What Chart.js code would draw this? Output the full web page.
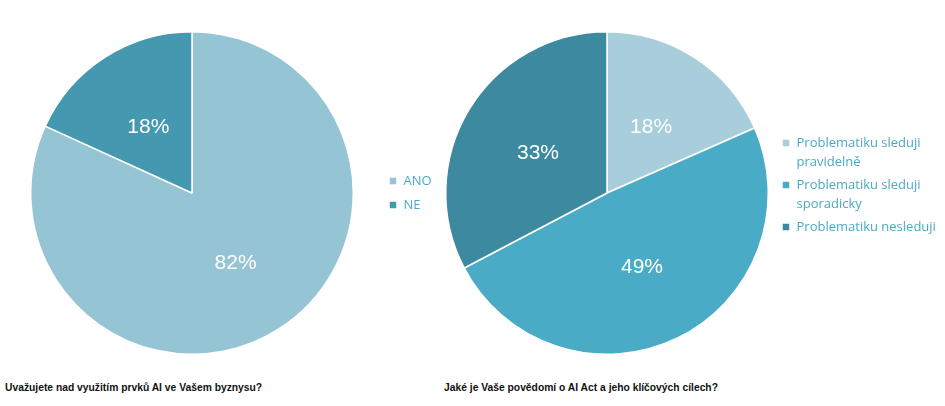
<!DOCTYPE html>
<html>
<head>
<meta charset="utf-8">
<script src="https://cdn.jsdelivr.net/npm/chart.js@4/dist/chart.umd.min.js"></script>
<style>
  body { margin: 0; background: #fff; width: 945px; height: 406px; position: relative; overflow: hidden; }
  canvas { position: absolute; }
  .caption { position: absolute; top: 382px; font: bold 10.3px "Liberation Sans", Arial, sans-serif; color: #111; white-space: nowrap; }
</style>
</head>
<body>
<canvas id="left-chart" style="left:6px;top:31px;width:442px;height:324px" width="442" height="324"></canvas>
<canvas id="right-chart" style="left:435px;top:31px;width:510px;height:324px" width="510" height="324"></canvas>
<div class="caption" style="left:5px">Uvažujete nad využitím prvků AI ve Vašem byznysu?</div>
<div class="caption" style="left:444px">Jaké je Vaše povědomí o AI Act a jeho klíčových cílech?</div>
<script>
// levý graf - využití AI
const left_labels = ['ANO', 'NE'];
const left_values = [81.8, 18.2];
const left_colors = ['#95c4d5', '#4499b0'];

// pravý graf - povědomí o AI Act
const right_labels = [['Problematiku sleduji', 'pravidelně'], ['Problematiku sleduji', 'sporadicky'], 'Problematiku nesleduji'];
const right_values = [18.4, 48.9, 32.7];
const right_colors = ['#a9cedb', '#4aabc6', '#3d8aa0'];

const legend_color = '#4aaac6';

// procenta uvnitř výsečí
const pct_labels = {
    id: 'pctLabels',
    afterDatasetsDraw(chart) {
        const ctx = chart.ctx;
        const meta = chart.getDatasetMeta(0);
        const data = chart.data.datasets[0].data;
        ctx.save();
        ctx.fillStyle = '#fff';
        ctx.font = '21px "Liberation Sans", Arial, sans-serif';
        ctx.textAlign = 'center';
        ctx.textBaseline = 'middle';
        meta.data.forEach((arc, i) => {
            const p = arc.tooltipPosition();
            ctx.fillText(Math.round(data[i]) + '%', p.x, p.y + 2);
        });
        ctx.restore();
    }
};

// pevná šířka legendy, aby koláč seděl na místě
function legend_width(w) {
    return {
        id: 'legendWidth',
        beforeInit(chart) {
            const fit = chart.legend.fit;
            chart.legend.fit = function () {
                fit.call(this);
                this.width = w;
            };
        }
    };
}

function make_pie(id, labels, values, colors, lw, legend_opts) {
    const canvas = document.getElementById(id).getContext('2d');
    return new Chart(canvas, {
        type: 'pie',
        data: {
            labels: labels,
            datasets: [{
                data: values,
                backgroundColor: colors,
                borderColor: '#fff',
                borderWidth: 1.5,
                hoverOffset: 0
            }]
        },
        options: {
            responsive: false,
            animation: false,
            events: [],
            layout: { padding: 0 },
            plugins: {
                tooltip: { enabled: false },
                legend: Object.assign({ position: 'right' }, legend_opts)
            }
        },
        plugins: [pct_labels, legend_width(lw)]
    });
}

make_pie('left-chart', left_labels, left_values, left_colors, 70, {
    align: 'center',
    labels: {
        boxWidth: 8, boxHeight: 8, padding: 11, color: legend_color,
        font: { family: '"Open Sans", sans-serif', size: 13 }
    }
});

make_pie('right-chart', right_labels, right_values, right_colors, 166, {
    align: 'start',
    title: { display: true, text: ' ', font: { size: 1, lineHeight: 1 }, padding: { top: 0, bottom: 101.5 } },
    labels: {
        boxWidth: 8, boxHeight: 8, padding: 3, color: legend_color,
        font: { family: '"Open Sans", sans-serif', size: 13, lineHeight: 1.5 }
    }
});
</script>
</body>
</html>
